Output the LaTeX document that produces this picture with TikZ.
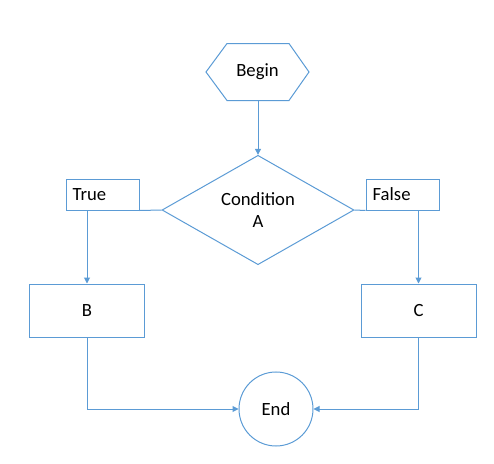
\documentclass[tikz,border=0pt]{standalone}
\usepackage{fontspec}
\setmainfont{Carlito}
\usepackage{xcolor}
\usepackage{tikz}
\usetikzlibrary{shapes,arrows.meta,positioning,calc}
\definecolor{flowblue}{HTML}{5B9BD5}

\begin{document}
\begin{tikzpicture}[x=0.75pt,y=-0.75pt,
    font=\fontsize{14}{17}\selectfont,
    line width=0.75pt,
    every node/.style={inner sep=0pt},
    box/.style={draw=flowblue, minimum width=86.25pt, minimum height=39.75pt},
    flag/.style={draw=flowblue, minimum height=23.25pt, text width=44.75pt, inner xsep=5pt, align=left},
    link/.style={draw=flowblue, -{Triangle[length=4.5pt,width=4.5pt]}}]
    \useasboundingbox (0,0) rectangle (494,464);

    % Start and decision
    \node[minimum width=76.5pt, minimum height=42pt] (begin) at (257.5,72) {Begin};
    \draw[flowblue] (begin.west) -- ($(begin.north west)+(21,0)$) -- ($(begin.north east)+(-20,0)$)
        -- (begin.east) -- ($(begin.south east)+(-20,0)$) -- ($(begin.south west)+(21,0)$) -- cycle;
    \node[diamond, draw=flowblue, minimum width=144pt, minimum height=78pt, align=center] (cond) at (258,210) {Condition\\A};

    % Branch labels
    \node[flag] (true) at (102.5,194.5) {True};
    \node[flag] (false) at (402.5,194.5) {False};

    % Actions
    \node[box] (b) at (87,310.5) {B};
    \node[box] (c) at (418.5,310.5) {C};
    \node[circle, draw=flowblue, minimum size=55.5pt] (end) at (276,409) {End};

    % Connectors
    \draw[link] (begin.south -| cond.north) -- (cond.north);
    \draw[flowblue] (cond.west) -- (true.south east);
    \draw[flowblue] (cond.east) -- (false.south west);
    \draw[link] (true.south -| b.north) -- (b.north);
    \draw[link] (false.south -| c.north) -- (c.north);
    \draw[link] (b.south) |- (end.west);
    \draw[link] (c.south) |- (end.east);
\end{tikzpicture}
\end{document}
